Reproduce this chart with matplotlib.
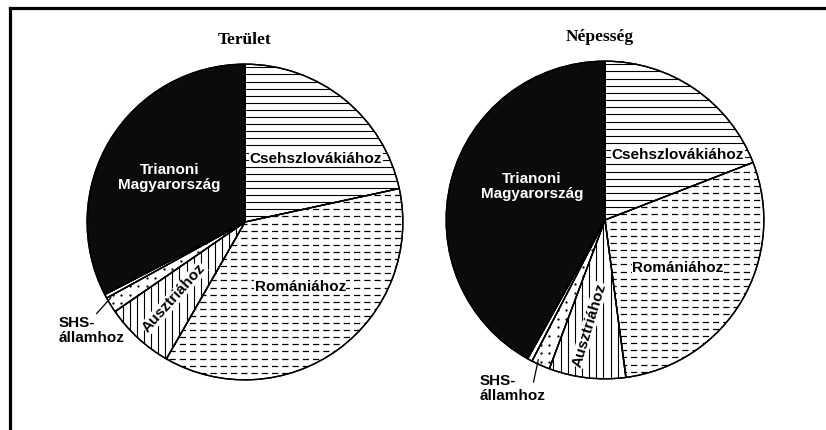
import numpy as np
import matplotlib
matplotlib.use("Agg")
import matplotlib.pyplot as plt
from matplotlib.lines import Line2D
from matplotlib.patches import Wedge


# adatok (%)

CATEGORIES = ["Csehszlovákiához", "Romániához", "Ausztriához",
              "SHS-államhoz", "egyéb", "Trianoni Magyarország"]
TERULET = [21.6, 36.7, 7.1, 1.6, 0.4, 32.6]
NEPESSEG = [19.1, 28.8, 7.8, 1.9, 0.5, 41.9]
TITLES = ["Terület", "Népesség"]

W, H = 826, 430
STEP = 0.045   # textúra sűrűsége (sugár egységben)

SANS = "Liberation Sans"
SERIF = "Liberation Serif"
FS = 11


def add_texture(ax, wedge, kind):
    ys = np.arange(-1.0, 1.0, STEP)
    arts = []
    if kind == "hline":
        for y in ys:
            arts += ax.plot([-1, 1], [y, y], color="black", lw=0.8)
    elif kind == "dash":
        for y in ys:
            arts += ax.plot([-1, 1], [y, y], color="black", lw=0.9,
                            linestyle=(0, (5.0, 3.2)))
    elif kind == "vline":
        for x in ys:
            arts += ax.plot([x, x], [-1, 1], color="black", lw=0.8)
    elif kind == "dot":
        g = np.arange(-1, 1, STEP * 1.2)
        xx, yy = np.meshgrid(g, g)
        arts += ax.plot(xx.ravel(), yy.ravel(), ".", color="black", ms=1.3)
    for a in arts:
        a.set_clip_path(wedge)
        a.set_zorder(2)


def draw_pie(fig, cx, cy, r, values, title, title_xy, labels):
    ax = fig.add_axes([(cx - r) / W, (H - cy - r) / H, 2 * r / W, 2 * r / H])
    colors = ["white", "white", "white", "white", "white", "#0b0b0b"]
    wedges, _ = ax.pie(values, startangle=90, counterclock=False, colors=colors,
                       wedgeprops=dict(edgecolor="black", linewidth=1.0))
    kinds = ["hline", "dash", "vline", "dot", None, None]
    for w, k in zip(wedges, kinds):
        w.set_zorder(1)
        if k:
            add_texture(ax, w, k)
    # körvonal újra a textúra fölé
    for w in wedges:
        ax.add_patch(Wedge(w.center, w.r, w.theta1, w.theta2, facecolor="none",
                           edgecolor="black", lw=1.0, zorder=3))
    ax.set_xlim(-1.02, 1.02)
    ax.set_ylim(-1.02, 1.02)
    ax.axis("off")

    fig.text(title_xy[0] / W, 1 - title_xy[1] / H, title, ha="center", va="center",
             fontsize=12.5, fontweight="bold", family=SERIF)

    box = dict(facecolor="white", edgecolor="none", pad=0.3)
    ax.text(*labels["hun"], "Trianoni\nMagyarország", color="white", ha="center",
            va="center", fontsize=FS, fontweight="bold", family=SANS,
            linespacing=1.1, zorder=5)
    ax.text(*labels["cseh"], CATEGORIES[0], ha="center", va="center", fontsize=FS,
            fontweight="bold", family=SANS, bbox=box, zorder=5)
    ax.text(*labels["rom"], CATEGORIES[1], ha="center", va="center", fontsize=FS,
            fontweight="bold", family=SANS, bbox=box, zorder=5)
    ax.text(*labels["aus"], CATEGORIES[2], ha="center", va="center", fontsize=FS,
            fontweight="bold", family=SANS, bbox=box, zorder=5,
            rotation=labels["aus_rot"], rotation_mode="anchor")
    ax.text(*labels["shs"], "SHS-\nállamhoz", ha="left", va="center", fontsize=FS,
            fontweight="bold", family=SANS, linespacing=1.1, zorder=5, clip_on=False)
    (x0, y0), (x1, y1) = labels["shs_line"]
    ax.add_line(Line2D([x0, x1], [y0, y1], color="black", lw=0.9, zorder=6,
                       clip_on=False))


def main():
    fig = plt.figure(figsize=(W / 100, H / 100), dpi=100)

    # keret
    fig.add_artist(Line2D([9.5 / W, 1], [1 - 8 / H, 1 - 8 / H], color="black", lw=2.3))
    fig.add_artist(Line2D([9.5 / W, 9.5 / W], [0, 1 - 8 / H], color="black", lw=2.3))

    draw_pie(fig, 245, 222, 161, TERULET, TITLES[0], (245, 40), {
        "hun": (-0.48, 0.28),
        "cseh": (0.45, 0.40),
        "rom": (0.35, -0.41),
        "aus": (-0.45, -0.48),
        "aus_rot": 48,
        "shs": (-1.18, -0.69),
        "shs_line": ((-0.94, -0.58), (-0.85, -0.48)),
    })
    draw_pie(fig, 605, 220, 162, NEPESSEG, TITLES[1], (600, 37), {
        "hun": (-0.46, 0.21),
        "cseh": (0.46, 0.41),
        "rom": (0.46, -0.30),
        "aus": (-0.10, -0.66),
        "aus_rot": 73,
        "shs": (-0.79, -1.06),
        "shs_line": ((-0.45, -1.02), (-0.42, -0.88)),
    })

    fig.savefig("out.png", dpi=100, facecolor="white")


if __name__ == "__main__":
    main()
